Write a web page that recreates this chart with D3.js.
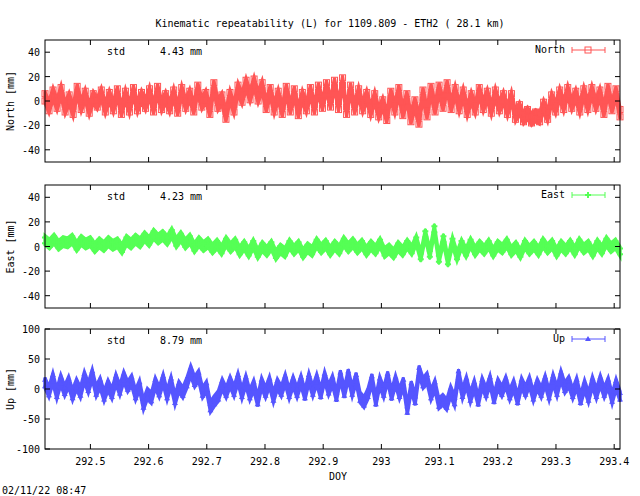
<!DOCTYPE html>
<html><head><meta charset="utf-8">
<script src="https://cdn.jsdelivr.net/npm/d3@7"></script>
<style>body{margin:0;background:#fff}text{font-family:"DejaVu Sans Mono",monospace;font-size:10px}</style>
</head><body><div id="chart"></div>
<script>
// values (mm), evenly spaced over the DOY span
const doyStart = 292.422, doyEnd = 293.41;
const xTicks = [292.5, 292.6, 292.7, 292.8, 292.9, 293, 293.1, 293.2, 293.3, 293.4];

const north = [3,-5,6,-3,8,-6,2,-8,9,-4,5,-7,3,-2,6,-6,4,-5,7,-8,5,-6,8,-5,4,-3,7,-6,9,-4,3,-5,6,-7,8,-3,5,-6,10,-2,4,-8,12,-3,2,-12,4,-6,10,2,14,4,15,3,12,-4,8,-6,5,-8,9,-6,7,-9,4,-5,8,-6,10,-3,12,-2,14,-4,16,-8,10,-6,7,-5,4,-8,3,-10,-2,-13,5,-6,8,-9,3,-14,-2,-16,6,-10,9,-6,10,-3,12,-4,8,-5,6,-8,3,-6,8,-4,5,-7,6,-5,3,-8,3,-12,-6,-14,-10,-15,-12,-14,-4,-12,2,-6,6,-4,8,-3,5,-6,7,-4,8,-3,6,-8,9,-5,7,-10];
const east = [5,2,6,1,4,3,6,0,5,2,4,-1,3,0,4,1,3,-2,5,2,6,3,8,4,10,6,9,5,11,3,8,2,6,-1,4,0,3,-2,2,-3,4,-1,3,-4,1,-5,2,-6,0,-4,1,-7,-2,-5,2,-3,1,-6,-1,-4,3,-2,2,-4,1,-3,4,-1,3,-2,2,-4,1,-3,3,-5,-2,-6,0,-4,2,-3,5,-8,10,-6,14,-10,6,-12,4,-8,2,-5,3,-4,1,-3,2,-5,1,-2,3,-4,0,-6,2,-3,1,-4,3,-2,2,-5,1,-3,2,-4,3,-2,1,-5,2,-3,4,-1,2,-4];
const up = [10,-5,18,-8,15,-3,12,-10,8,-6,20,2,24,-4,10,-12,6,-8,16,-2,20,4,14,-10,6,-26,-8,-15,10,-5,16,-10,12,-18,4,-6,10,30,12,22,-6,4,-30,-20,-12,8,-6,12,-4,18,-8,14,-10,6,-20,10,-6,12,-14,8,-4,16,-8,12,-6,14,-10,18,-4,16,-8,20,-2,14,-12,22,-6,24,-4,18,-14,-22,-8,16,-20,12,-6,20,-10,14,-8,10,-34,4,-18,30,10,18,-10,6,-24,-18,-26,-4,-20,24,-8,12,-14,6,-20,10,-6,14,-16,8,-4,12,-10,6,-18,10,-4,12,-12,8,-6,14,-10,16,-4,22,2,12,-8,10,-18,6,-14,12,-8,14,-6,10,-16,8,-12];

const W = 640, H = 496, L = 45, R = 620;
const svg = d3.select('#chart').append('svg').attr('width', W).attr('height', H);
const x = d3.scaleLinear().domain([doyStart, doyEnd]).range([L, R]);

svg.append('text').attr('x', 330).attr('y', 27).attr('text-anchor', 'middle')
    .text('Kinematic repeatability (L) for 1109.809 - ETH2  ( 28.1 km)');

const panels = [
    {name: 'North', data: north, top: 40, bottom: 162, dom: [-50, 50], ticks: [-40,-20,0,20,40], color: '#ff5555', std: '4.43', marker: 'square', err: 5},
    {name: 'East', data: east, top: 185, bottom: 308, dom: [-50, 50], ticks: [-40,-20,0,20,40], color: '#55ff55', std: '4.23', marker: 'plus', err: 4},
    {name: 'Up', data: up, top: 329, bottom: 449, dom: [-100, 100], ticks: [-100,-50,0,50,100], color: '#5555ff', std: '8.79', marker: 'tri', err: 9}
];

function drawMarker(g, kind, cx, cy, color) {
    if (kind === 'square') {
        g.append('rect').attr('x', cx - 3).attr('y', cy - 3).attr('width', 6).attr('height', 6)
            .attr('fill', 'none').attr('stroke', color);
    } else if (kind === 'plus') {
        g.append('path').attr('d', `M${cx-3},${cy}H${cx+3}M${cx},${cy-3}V${cy+3}`).attr('stroke', color).attr('stroke-width', 2);
    } else {
        g.append('path').attr('d', `M${cx},${cy-3}L${cx+3},${cy+2}L${cx-3},${cy+2}Z`).attr('fill', color);
    }
}

panels.forEach((p, pi) => {
    const y = d3.scaleLinear().domain(p.dom).range([p.bottom, p.top]);
    const g = svg.append('g');
    const step = (doyEnd - doyStart) / (p.data.length - 1);
    const pts = p.data.map((v, i) => [doyStart + i * step, v]);

    const marks = g.append('g');
    const area = d3.area().x(d => x(d[0])).y0(d => y(d[1] - p.err)).y1(d => y(d[1] + p.err));
    marks.append('path').attr('d', area(pts)).attr('fill', p.color).attr('stroke', p.color).attr('stroke-width', 3);
    pts.forEach(d => {
        marks.append('line').attr('x1', x(d[0])).attr('x2', x(d[0]))
            .attr('y1', y(d[1] - p.err)).attr('y2', y(d[1] + p.err)).attr('stroke', p.color).attr('stroke-width', 3);
        drawMarker(marks, p.marker, x(d[0]), y(d[1] + p.err * 0.6), p.color);
        drawMarker(marks, p.marker, x(d[0]), y(d[1] - p.err * 0.6), p.color);
    });

    // frame and ticks
    g.append('rect').attr('x', L).attr('y', p.top).attr('width', R - L).attr('height', p.bottom - p.top)
        .attr('fill', 'none').attr('stroke', '#000');
    p.ticks.forEach(t => {
        g.append('line').attr('x1', L).attr('x2', L + 5).attr('y1', y(t)).attr('y2', y(t)).attr('stroke', '#000');
        g.append('line').attr('x1', R - 5).attr('x2', R).attr('y1', y(t)).attr('y2', y(t)).attr('stroke', '#000');
        g.append('text').attr('x', 40).attr('y', y(t) + 4).attr('text-anchor', 'end').text(t);
    });
    xTicks.forEach(t => {
        g.append('line').attr('x1', x(t)).attr('x2', x(t)).attr('y1', p.bottom).attr('y2', p.bottom - 5).attr('stroke', '#000');
        g.append('line').attr('x1', x(t)).attr('x2', x(t)).attr('y1', p.top).attr('y2', p.top + 5).attr('stroke', '#000');
        if (pi === 2) g.append('text').attr('x', x(t)).attr('y', p.bottom + 16).attr('text-anchor', 'middle').text(t);
    });

    const mid = (p.top + p.bottom) / 2;
    g.append('text').attr('transform', `translate(14,${mid}) rotate(-90)`).attr('text-anchor', 'middle').text(p.name + ' [mm]');
    g.append('text').attr('x', 107).attr('y', p.top + 15).text('std');
    g.append('text').attr('x', 160).attr('y', p.top + 15).text(p.std + ' mm');

    // legend
    g.append('text').attr('x', 565).attr('y', p.top + 13).attr('text-anchor', 'end').text(p.name);
    const ly = p.top + 10;
    g.append('line').attr('x1', 572).attr('x2', 605).attr('y1', ly).attr('y2', ly).attr('stroke', p.color);
    g.append('line').attr('x1', 572).attr('x2', 572).attr('y1', ly - 3).attr('y2', ly + 3).attr('stroke', p.color);
    g.append('line').attr('x1', 605).attr('x2', 605).attr('y1', ly - 3).attr('y2', ly + 3).attr('stroke', p.color);
    drawMarker(g, p.marker, 588, ly, p.color);
});

svg.append('text').attr('x', 338).attr('y', 480).attr('text-anchor', 'middle').text('DOY');
svg.append('text').attr('x', 2).attr('y', 494).text('02/11/22 08:47');
</script></body></html>
